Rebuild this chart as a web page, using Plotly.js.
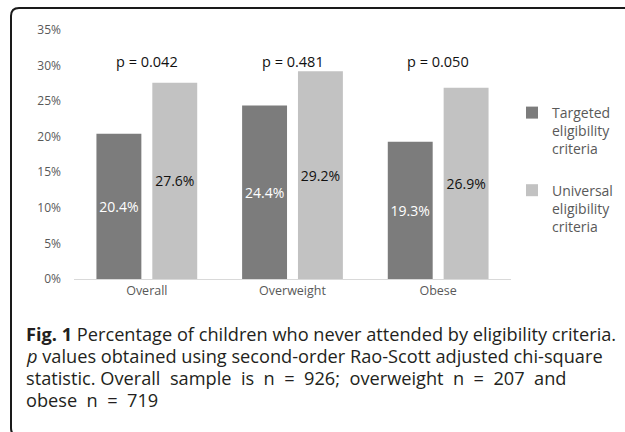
<!DOCTYPE html>
<html>
<head>
<meta charset="utf-8">
<script src="https://cdn.plot.ly/plotly-3.0.1.min.js"></script>
<style>html,body{margin:0;padding:0;background:#fff;}#chart{width:625px;height:432px;}</style>
</head>
<body>
<div id="chart"></div>
<script>
// ---- data ----
var categories = ["Overall", "Overweight", "Obese"];
var targetedValues = [0.204, 0.244, 0.193];
var universalValues = [0.276, 0.292, 0.269];
var seriesNames = ["Targeted<br>eligibility<br>criteria", "Universal<br>eligibility<br>criteria"];
var pLabels = ["p = 0.042", "p = 0.481", "p = 0.050"];
var pLabelLevel = 0.306;
var captionLines = [
  "<b>Fig. 1</b> Percentage of children who never attended by eligibility criteria.",
  "<i>p</i> values obtained using second-order Rao-Scott adjusted chi-square",
  "statistic. Overall  sample  is  n  =  926;  overweight  n  =  207  and",
  "obese  n  =  719"
];

// ---- layout geometry (pixels) ----
var W = 625, H = 432;
var M = {l: 74, r: 114, t: 30, b: 153, autoexpand: false};
var PW = W - M.l - M.r, PH = H - M.t - M.b;
function px(x) { return (x - M.l) / PW; }
function py(y) { return (H - M.b - y) / PH; }

var font = "'Open Sans', 'DejaVu Sans', sans-serif";

var traces = [
  {
    type: "bar", name: seriesNames[0], x: categories, y: targetedValues,
    marker: {color: "#7c7c7c", line: {width: 0}},
    texttemplate: "%{y:.1%}", textposition: "inside", insidetextanchor: "middle",
    textangle: 0, constraintext: "none",
    textfont: {family: font, size: 14, color: "#ffffff"},
    legendgroup: "a", hoverinfo: "skip"
  },
  {
    type: "bar", name: seriesNames[1], x: categories, y: universalValues,
    marker: {color: "#c2c2c2", line: {width: 0}},
    texttemplate: "%{y:.1%}", textposition: "inside", insidetextanchor: "middle",
    textangle: 0, constraintext: "none",
    textfont: {family: font, size: 14, color: "#111111"},
    legendgroup: "b", hoverinfo: "skip"
  }
];

var annotations = [];
categories.forEach(function (c, i) {
  annotations.push({
    x: c, y: pLabelLevel, xref: "x", yref: "y", text: pLabels[i],
    showarrow: false, xanchor: "center", yanchor: "middle",
    font: {family: font, size: 14.5, color: "#111111"}
  });
});
var captionY = [334, 356, 378, 400];
captionLines.forEach(function (t, i) {
  annotations.push({
    x: px(24), y: py(captionY[i]), xref: "paper", yref: "paper", text: t,
    showarrow: false, xanchor: "left", yanchor: "middle", align: "left",
    font: {family: font, size: 18.2, color: "#231f20"}
  });
});

function P(x, y) { return px(x) + "," + py(y); }
var borderPath = "M" + P(19, 436) + " Q" + P(11, 436) + " " + P(11, 428) +
  " L" + P(11, 16) + " Q" + P(11, 8) + " " + P(19, 8) + " L" + P(640, 8);

var layout = {
  width: W, height: H,
  margin: M,
  paper_bgcolor: "#ffffff", plot_bgcolor: "#ffffff",
  font: {family: font, color: "#595959"},
  barmode: "group", bargap: 0.233, bargroupgap: 0.196,
  showlegend: true,
  legend: {
    x: px(512), xanchor: "left", y: py(97), yanchor: "top",
    font: {family: font, size: 14, color: "#595959"},
    traceorder: "grouped", tracegroupgap: 20, valign: "top",
    itemwidth: 30, bgcolor: "rgba(0,0,0,0)", borderwidth: 0
  },
  xaxis: {
    showline: true, linecolor: "#d9d9d9", linewidth: 1,
    showgrid: false, zeroline: false, ticks: "",
    tickfont: {family: font, size: 12.5, color: "#595959"},
    fixedrange: true
  },
  yaxis: {
    range: [0, 0.35], dtick: 0.05, tickformat: ".0%",
    showline: false, showgrid: false, zeroline: false, ticks: "",
    ticklabelstandoff: 12,
    tickfont: {family: font, size: 12, color: "#595959"},
    fixedrange: true
  },
  annotations: annotations,
  shapes: [{
    type: "path", xref: "paper", yref: "paper", path: borderPath,
    line: {color: "#1a1a1a", width: 2}
  }]
};

Plotly.newPlot("chart", traces, layout, {displayModeBar: false, staticPlot: true});
</script>
</body>
</html>
